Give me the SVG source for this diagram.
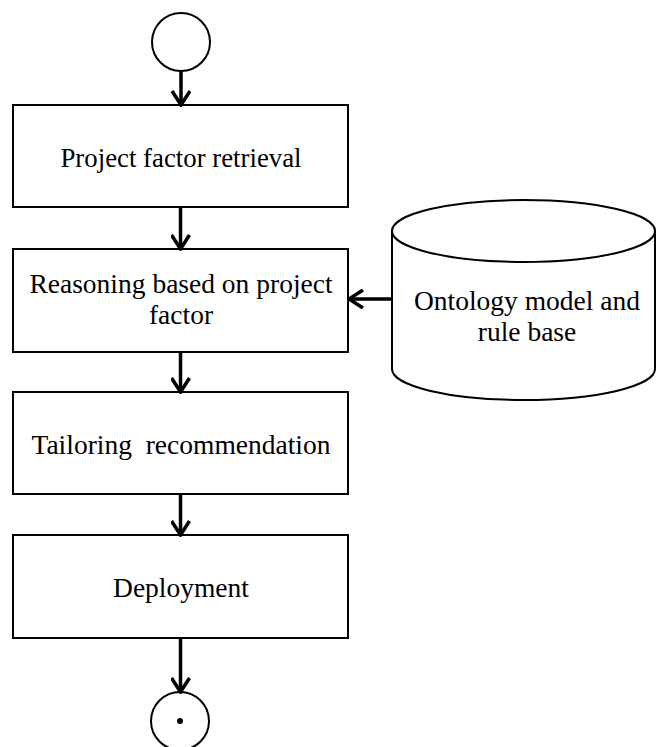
<svg xmlns="http://www.w3.org/2000/svg" width="657" height="747" viewBox="0 0 657 747">
  <style>
    .box { fill: #ffffff; stroke: #000000; stroke-width: 2; }
    .term { fill: #ffffff; stroke: #000000; stroke-width: 2; }
    .lbl { font-family: "Liberation Serif", "Times New Roman", serif; font-size: 27.5px; fill: #000000; text-anchor: middle; }
    .flow { stroke: #000000; stroke-width: 3.5; fill: none; marker-end: url(#head); }
  </style>
  <defs>
    <marker id="head" viewBox="0 0 20 20" refX="18" refY="10" markerWidth="20" markerHeight="20" markerUnits="userSpaceOnUse" orient="auto">
      <path d="M4,1 L18,10 L4,19" fill="none" stroke="#000000" stroke-width="3.5" stroke-linejoin="miter"/>
    </marker>
  </defs>
  <rect width="657" height="747" fill="#ffffff"/>

  <!-- start terminal -->
  <g id="start">
    <circle class="term" cx="181" cy="42" r="29"/>
  </g>

  <g id="retrieval">
    <rect class="box" x="13" y="105" width="335" height="102"/>
    <text class="lbl" x="181" y="167" style="font-size:26.8px">Project factor retrieval</text>
  </g>

  <g id="reasoning">
    <rect class="box" x="13" y="249" width="335" height="103"/>
    <text class="lbl" x="181" y="293">Reasoning based on project</text>
    <text class="lbl" x="181" y="324">factor</text>
  </g>

  <g id="ontology">
    <path class="box" d="M392,231 L392,369 A131.5,31 0 0 0 655,369 L655,231 A131.5,31 0 0 0 392,231 Z"/>
    <path d="M392,231 A131.5,31 0 0 0 655,231" fill="none" stroke="#000000" stroke-width="2"/>
    <text class="lbl" x="527" y="310">Ontology model and</text>
    <text class="lbl" x="527" y="341">rule base</text>
  </g>

  <g id="tailoring">
    <rect class="box" x="13" y="392" width="335" height="102"/>
    <text class="lbl" x="181" y="454" xml:space="preserve">Tailoring  recommendation</text>
  </g>

  <g id="deployment">
    <rect class="box" x="13" y="535" width="335" height="103"/>
    <text class="lbl" x="181" y="597">Deployment</text>
  </g>

  <!-- end terminal -->
  <g id="end">
    <circle class="term" cx="180" cy="721" r="29"/>
    <circle cx="180" cy="721" r="3" fill="#000000"/>
  </g>

  <g id="connectors">
    <line class="flow" x1="181" y1="71" x2="181" y2="105"/>
    <line class="flow" x1="180.5" y1="207" x2="180.5" y2="249"/>
    <line class="flow" x1="180.5" y1="352" x2="180.5" y2="392"/>
    <line class="flow" x1="180.5" y1="494" x2="180.5" y2="535"/>
    <line class="flow" x1="180.5" y1="638" x2="180.5" y2="692"/>
    <line class="flow" x1="392" y1="299" x2="349" y2="299"/>
  </g>
</svg>
